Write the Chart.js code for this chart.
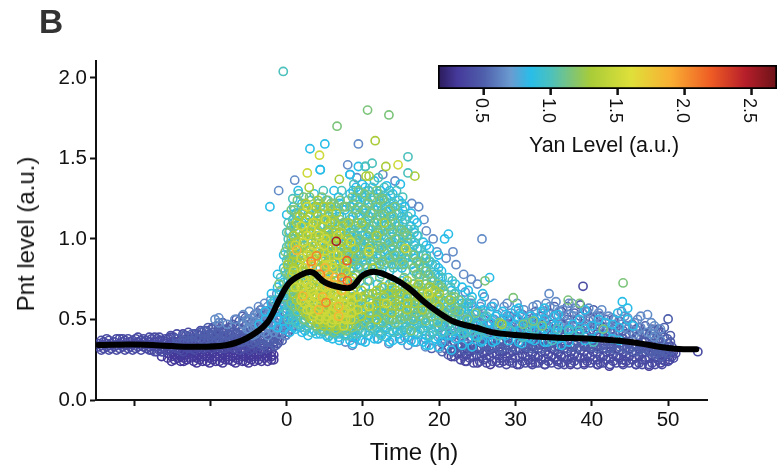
<!DOCTYPE html>
<html lang="en">
<head>
<meta charset="UTF-8">
<title>Pnt level over time</title>
<script src="https://cdn.jsdelivr.net/npm/chart.js"></script>
<style>
    body { margin: 0; background: #fff; font-family: "Liberation Sans", Arial, sans-serif; }
    #wrap { position: relative; width: 778px; height: 467px; overflow: hidden; color: #111; }
    canvas { display: block; }
    #mainBox { position: absolute; left: 0; top: 0; width: 778px; height: 467px; }
    #barBox { position: absolute; left: 428px; top: 55px; width: 350px; height: 110px; }
    .lbl { position: absolute; white-space: nowrap; }
    #panel { left: 39px; top: 3px; font-size: 33.5px; font-weight: bold; color: #333; }
    #timeTitle { left: 414px; top: 452px; font-size: 24px; transform: translate(-50%, -50%); }
    #pntTitle { left: 26px; top: 234px; font-size: 24px; transform: translate(-50%, -50%) rotate(-90deg); }
    #yanTitle { left: 604px; top: 145px; font-size: 21.5px; transform: translate(-50%, -50%); }
</style>
</head>
<body>
<div id="wrap">
    <div id="mainBox"><canvas id="mainChart" width="778" height="467"></canvas></div>
    <div id="barBox"><canvas id="yanBar" width="350" height="110"></canvas></div>
    <div class="lbl" id="panel">B</div>
    <div class="lbl" id="timeTitle">Time (h)</div>
    <div class="lbl" id="pntTitle">Pnt level (a.u.)</div>
    <div class="lbl" id="yanTitle">Yan Level (a.u.)</div>
</div>
<script>
// colour bar
var barLevels = [0.157, 0.3, 0.5, 0.7, 0.85, 1.0, 1.15, 1.3, 1.6, 1.9, 2.2, 2.45, 2.69];
var barColors = ['#2b1a5a', '#45399a', '#4f5fab', '#6a9bd0', '#29bde8', '#4cc1bd', '#7cc47a', '#a9cc38', '#dfe03a', '#f9ae33', '#ee5b24', '#b71f2a', '#6b1218'];
var barTicks = [0.5, 1.0, 1.5, 2.0, 2.5];
var timeTicks = [-20, -10, 0, 10, 20, 30, 40, 50];
var pntTicks = [0, 0.5, 1, 1.5, 2];

// smoothed mean
var meanTime = [-24.7, -20, -15, -12.7, -8, -5.2, -2.6, -0.9, 0.4, 2.5, 3.5, 5, 7, 8.5, 10, 11.7, 14, 16, 18, 20, 22, 25, 27, 30, 35, 40, 45, 50, 52, 53.7];
var meanPnt = [0.342, 0.345, 0.335, 0.33, 0.34, 0.385, 0.478, 0.63, 0.73, 0.79, 0.79, 0.73, 0.70, 0.70, 0.775, 0.795, 0.755, 0.695, 0.61, 0.54, 0.485, 0.447, 0.42, 0.404, 0.388, 0.38, 0.36, 0.323, 0.315, 0.315];

// cells, one list per Yan level. each row is a time followed by the Pnt levels at that time
var yanLevels = [0.3, 0.4, 0.5, 0.65, 0.85, 1.0, 1.15, 1.3, 1.5, 1.85, 2.05, 2.2, 2.5];

var yan030 = [
    [-15.6,.26,.29],[-14.7,.25,.28,.31],[-13.9,.24,.27,.3],[-13.1,.25,.28,.31],[-12.2,.24,.27,.3,.33],[-11.4,.25,.28,.31],
    [-10.5,.24,.27,.3],[-9.7,.25,.29,.32],[-8.8,.24,.27,.3],[-8,.25,.28,.31],[-7.1,.24,.27,.31],[-6.3,.25,.28],[-5.4,.24,.27,.3],
    [-4.6,.25,.28,.31],[-3.7,.25,.28],[-2.9,.26,.29],[-2,.25,.27,.3],[21.6,.27],[23.4,.24],[25,.23],[26.7,.22],[28.4,.24],[30.2,.22],[32,.23],
    [33.8,.22],[35.5,.24],[37.2,.22],[39,.23],[40.8,.22],[42.3,.21],[44,.23],[45.8,.22],[47.5,.21],[49,.23],[50.2,.25],
    [-16.4,.27,.3],[-15.1,.24,.27,.3,.33],[-14.3,.26,.29,.32],[-13.5,.24,.26,.29,.32],[-12.7,.26,.29,.32],[-11.8,.23,.26,.29,.32],[-11,.24,.27,.3,.33],[-10.1,.23,.26,.29,.32],[-9.3,.24,.27,.31],
    [-8.4,.23,.26,.29,.32],[-7.6,.25,.27,.3,.33],[-6.7,.23,.26,.29,.32],[-5.8,.24,.27,.3],[-5,.23,.26,.29,.32],[-4.2,.24,.27,.3],[-3.3,.24,.27,.3],[-2.5,.24,.27,.3],[-1.7,.25,.28]
];
var yan040 = [
    [-24.6,.33,.35],[-24,.32,.36],[-23.3,.31,.34,.37],[-22.6,.33,.36],[-21.9,.32,.35,.38],[-21.2,.31,.34,.37],[-20.5,.33,.36],[-19.8,.32,.35,.38],
    [-19.1,.31,.34,.37],[-18.4,.32,.35,.37],[-17.7,.31,.34,.38],[-17,.3,.33,.36,.38],[-16.3,.3,.33,.37],[-15.5,.31,.34,.38],[-14.8,.33,.36,.39],
    [-14,.31,.34,.37],[-13.2,.33,.36,.4],[-12.5,.32,.35,.38],[-11.7,.33,.37,.41],[-10.9,.32,.35,.39],[-10.1,.34,.37,.41],[-9.3,.33,.36,.4],
    [-8.5,.32,.35,.38,.42],[-7.7,.33,.37,.41],[-6.9,.32,.35,.39],[-6.1,.31,.34,.38],[-5.2,.33,.36,.4],[-4.4,.32,.35],[-3.5,.31,.34,.37],[-2.6,.32,.36],[-1.7,.33,.36],
    [22.4,.29,.33],[23.2,.27,.31],[24,.26,.3],[24.9,.28,.32],[25.8,.25,.29],[26.6,.27,.31],[27.5,.24,.28],[28.3,.26,.3],[29.2,.24,.29],[30,.26,.31],[30.9,.24,.28],
    [31.7,.25,.3],[32.6,.23,.27],[33.4,.25,.3],[34.3,.24,.28],[35.1,.26,.31],[36,.23,.27],[36.8,.25,.3],[37.7,.24,.28],[38.5,.26,.31],[39.4,.24,.28],[40.2,.25,.3],
    [41.1,.23,.27],[41.9,.25,.3],[42.8,.24,.28],[43.6,.26,.31],[44.5,.24,.27],[45.3,.25,.3],[46.2,.23,.27],[47,.25,.3],[47.9,.23,.28],[48.7,.25,.3],[49.6,.24,.28,.33],[50.5,.27,.3,.33],[51,.29],[53.9,.3],[38.85,.706],
    [-24.3,.31,.34,.37],[-23.6,.33,.35,.38],[-23,.32,.35],[-22.3,.31,.34,.38],[-21.5,.33,.36,.38],[-20.8,.32,.34,.38],[-20.2,.31,.35,.37],[-19.5,.33,.36,.39],[-18.8,.33,.36,.38],[-18,.31,.33,.36,.39],[-17.3,.3,.33,.36,.39],[-16.7,.31,.34,.37,.39],
    [-15.9,.31,.35,.38],[-15.2,.33,.36,.39,.4],[-14.4,.32,.35,.38,.41],[-13.6,.3,.34,.37,.41],[-12.9,.32,.35,.39,.42],[-12.1,.31,.34,.38,.41],[-11.3,.33,.36,.4,.43],[-10.5,.33,.36,.39,.43],[-9.7,.32,.35,.38,.42,.45],[-8.9,.33,.36,.4,.44],
    [-8.1,.32,.35,.39,.43],[-7.3,.33,.36,.4,.45],[-6.5,.33,.37,.41],[-5.7,.32,.36,.39,.43],[-4.8,.31,.34,.38,.42],[-4,.33,.36,.4],[-3.1,.32,.35,.39],[-2.2,.33,.37,.41],[-1.2,.35,.38],
    [22,.27,.31],[22.8,.25,.29,.33],[23.6,.24,.28,.32],[24.5,.23,.27,.31,.34],[25.3,.24,.27,.31],[26.2,.23,.26,.3,.33],[27,.24,.29,.32],[27.9,.23,.26,.3,.33],[28.8,.22,.27,.31],[29.6,.23,.26,.3,.33],[30.5,.22,.27,.31],[31.3,.23,.27,.32],
    [32.2,.22,.25,.29,.33],[33,.23,.27,.32],[33.9,.22,.26,.3,.33],[34.7,.23,.27,.32],[35.6,.22,.25,.29,.33],[36.4,.22,.27,.32],[37.3,.23,.26,.3,.33],[38.1,.22,.27,.32],[39,.22,.26,.3,.33],[39.8,.23,.27,.32],[40.7,.22,.25,.29,.33],[41.5,.23,.27,.32],
    [42.4,.22,.26,.3,.33],[43.2,.23,.27,.32],[44.1,.22,.25,.29,.33],[44.9,.23,.27,.32],[45.8,.22,.26,.3,.33],[46.6,.22,.25,.29,.33],[47.5,.22,.26,.3,.33],[48.3,.22,.26,.3,.33],[49.2,.22,.25,.29,.33],[50,.24,.27,.31,.35],[50.7,.26,.3]
];
var yan050 = [
    [-14.4,.35,.38],[-13,.36,.39],[-11.9,.35,.39],[-10.8,.37,.4,.43],[-9.7,.36,.4,.44],[-8.9,.38,.42,.46],[-7.9,.36,.4,.44],[-7.1,.38,.42,.47],
    [-6.2,.36,.4,.44,.49],[-5.4,.38,.42,.46,.51],[-4.6,.35,.39,.43,.48],[-3.8,.37,.41,.45,.5,.54],[-3,.34,.38,.42,.47,.52],[-2.2,.36,.4,.44,.5],[-1.4,.34,.39,.43,.48],[-.6,.37,.41,.46],[.2,.42,.47],
    [19,.32],[20.4,.3,.35],[21.2,.28,.33,.39],[22,.31,.36],[23,.34,.39,.44],[23.8,.33,.37],[24.6,.35,.41],[25.4,.33,.38,.45],[26.2,.34,.39],[27,.33,.38,.44],[27.9,.32,.36,.42],
    [28.7,.34,.39,.47],[29.6,.33,.37,.43],[30.4,.35,.4,.46],[31.3,.33,.38,.43],[32.1,.32,.36,.42,.49],[33,.34,.39,.45],[33.8,.33,.37,.42,.5],[34.7,.35,.41,.47],[35.6,.32,.37,.43],
    [36.4,.34,.39,.46,.52],[37.3,.33,.38,.43],[38.1,.32,.36,.42,.5],[39,.34,.4,.46],[39.8,.33,.37,.43,.51],[40.7,.32,.36,.41,.47],[41.5,.34,.39,.45],[42.4,.32,.36,.42],[43.2,.31,.35,.4,.46],
    [44.1,.33,.38,.43],[44.9,.31,.35,.41],[45.8,.3,.34,.39,.44],[46.6,.32,.36,.42],[47.5,.3,.34,.4],[48.3,.28,.32,.37,.43],[49.1,.27,.31,.36,.42],[49.9,.29,.33,.38],[50,.503],
    [-13.5,.37,.4],[-12.4,.37,.41],[-11.3,.38,.42],[-10.3,.38,.42,.45],[-9.2,.37,.41,.46],[-8.4,.37,.4,.44,.48],[-7.5,.36,.41,.45],[-6.6,.37,.42,.46,.5],[-5.8,.36,.4,.44,.48,.52],[-5,.37,.41,.45,.5],[-4.2,.36,.4,.44,.48,.53],
    [-3.4,.35,.39,.43,.47,.52,.56],[-2.6,.36,.4,.45,.5,.55],[-1.8,.35,.39,.43,.47,.52,.58],[-1,.37,.41,.45,.5,.56],[-.2,.4,.44,.49,.54],[.6,.44,.5],
    [20.8,.32,.37,.41],[21.7,.3,.35,.4],[22.6,.33,.38,.42],[23.4,.31,.36,.41,.46],[24.2,.33,.38,.44],[25,.31,.36,.41,.48],[25.8,.34,.39,.44,.5],[26.6,.32,.37,.42,.47],[27.4,.34,.4,.46],[28.3,.32,.37,.42,.5],[29.2,.34,.4,.45,.52],[30,.32,.37,.43,.5],
    [30.9,.34,.4,.46,.53],[31.7,.33,.38,.44,.5],[32.6,.34,.4,.47,.55],[33.4,.32,.38,.44,.52],[34.3,.34,.4,.46,.54],[35.1,.33,.38,.44,.52,.58],[36,.34,.4,.47,.55],[36.8,.32,.37,.43,.5,.58],[37.7,.34,.4,.46,.54],[38.5,.33,.38,.44,.52,.59],
    [39.4,.34,.4,.47,.55],[40.2,.33,.38,.43,.5,.56],[41.1,.34,.39,.45,.52],[41.9,.32,.37,.43,.5],[42.8,.34,.39,.44,.5],[43.6,.33,.38,.43,.49],[44.5,.32,.36,.41,.46],[45.3,.33,.37,.42,.47],[46.2,.31,.35,.4,.45],[47,.32,.36,.41,.46],[47.9,.3,.35,.39,.44],[48.7,.29,.33,.38,.44],[49.5,.3,.34,.39,.45],[50.3,.31,.36,.4]
];
var yan065 = [
    [-9.4,.5],[-8.9,.48,.51],[-7.8,.47],[-6.8,.5],[-5.7,.53,.47],[-4.9,.55,.49,.44],[-4.1,.53,.47,.41],[-3.3,.56,.5,.44],[-2.5,.58,.52,.46,.4],[-1.7,.6,.53,.47,.42],[-.9,.52,.46,.41,.62],[-.1,.5,.45,.4,.57],[.7,.46],
    [7.7,.36],[8.6,.34,.39],[9.7,.37],[12,.38],[13.4,.35],[14.8,.38],[15.9,.34,.39],[17,.36],[18.2,.33,.38],[19.2,.37,.42],[20,.45,.32],[20.8,.42,.5],[21.6,.46,.36,.57],[22.6,.41,.5,.62],
    [23.4,.45,.55,.67],[24.2,.42,.5,.6],[25,.47,.55,.72],[25.9,.43,.52,.64],[26.8,.48,.58],[27.6,.45,.53],[28.5,.5,.58],[29.4,.46,.54],[30.2,.43,.51,.6],[31.1,.48,.56],[31.9,.45,.53],[32.8,.51,.59],
    [33.6,.46,.54],[34.5,.5,.58],[35.3,.44,.53,.61],[36.2,.48,.56],[37,.46,.53,.6],[37.9,.5,.57],[38.8,.45,.54],[39.6,.49,.57],[40.5,.44,.52],[41.3,.48,.56],[42.2,.45,.52],[43,.42,.5],
    [43.9,.47,.55],[44.7,.44,.51],[45.6,.41,.48],[46.4,.45,.52],[47.3,.42,.53],[48.2,.39,.46],[49,.37,.44],[34.4,.66],[25.6,1],[1.05,1.365],[9.4,1.59],[14.2,1.36],[19.2,1.0],[-1.05,1.3],[8,1.46],
    [-5.2,.5,.44],[-4.5,.51,.45,.4],[-3.7,.58,.52,.46],[-2.9,.6,.54,.48,.42],[-2.1,.62,.56,.5,.44],[-1.3,.66,.58,.5,.44],[-.5,.64,.55,.47],[.3,.6,.52,.44],[1,.48],[1.8,.45],
    [20.4,.38,.46,.54],[22.2,.38,.47,.55],[23.9,.39,.5,.6],[25.4,.4,.48,.58],[27.2,.42,.5,.6],[28.9,.44,.52,.6],[30.6,.46,.54],[32.3,.43,.51,.58],[34,.45,.53,.6],[35.7,.47,.55],[37.4,.44,.52,.6],[39.2,.47,.55],[40.9,.46,.54],[42.6,.43,.51],[44.3,.45,.52],[46,.43,.5],[47.8,.41,.48],
    [9.2,1.38],[12.6,1.4],[16.4,1.22],[17.3,1.2],[18,1.12],[19.7,.92],[20.9,.88],[22.2,.84],[23.2,.78],[24.2,.75],[21.8,.92],[18.3,1.05]
];
var yan085 = [
    [-3.6,.47],[-2.8,.5,.55],[-2,.47,.53,.6,.66],[-1.2,.45,.5,.56,.62,.7,.78],[-.4,.44,.49,.54,.6,.66,.73,.82,.9],[.4,.42,.47,.53,.59,.65,.72,.8,.88,.97,1.05],[1.2,.44,.5,.56,.98,1.08,1.16],
    [2,.42,.48,.54,1.1,1.22],[2.8,.4,.46,.53,1.02,1.15],[3.6,.43,.49,1.2,1.28],[4.4,.41,.47,1.12,1.43],[5.2,.4,.45,.98,1.05,1.24],[6,.38,.44,.88,.96,1.1,1.18],[6.8,.39,.43,.84,.92,1.0,1.08,1.26],
    [7.6,.41,.46,.78,.86,.94,1.02,1.1,1.18],[8.3,.37,.42,.5,.8,.88,.96,1.04,1.12,1.2,1.28,1.4],[9.1,.39,.45,.52,.58,.84,.92,1,1.08,1.16,1.24,1.32],[9.9,.37,.42,.48,.6,.86,.94,1.02,1.1,1.18,1.26,1.34],
    [10.7,.4,.46,.53,.66,.9,.98,1.06,1.14,1.22,1.3],[11.5,.38,.44,.5,.58,.86,.94,1.02,1.1,1.18,1.26,1.36],[12.3,.41,.47,.55,.62,.9,.98,1.06,1.14,1.22,1.3],[13.1,.39,.45,.52,.6,.85,.93,1.01,1.09,1.17,1.25,1.33],
    [13.9,.37,.43,.5,.57,.65,.88,.96,1.04,1.12,1.2,1.28],[14.7,.41,.47,.54,.62,.84,.92,1,1.08,1.16,1.24],[15.5,.39,.45,.52,.6,.68,.88,.96,1.04,1.12,1.2],[16.3,.37,.43,.5,.57,.65,.84,.92,1,1.08,1.16],
    [17.1,.41,.47,.54,.62,.86,.94,1.02,1.1],[17.9,.36,.43,.5,.58,.82,.9,.98],[18.7,.34,.4,.47,.54,.62,.86,.94],[19.5,.38,.45,.52,.6,.78,.84],[20.3,.36,.42,.5,.57,.72,.8],[21.2,.4,.47,.54,.62,.76,1.03],
    [22.1,.38,.44,.52,.58,.66,.72],[22.9,.42,.48,.56,.62],[23.8,.37,.44,.5,.58,.68],[24.6,.4,.47,.53],[25.5,.36,.43,.5,.6],[26.6,.41,.48,.55,.76],[27.4,.37,.44,.52],[28.3,.41,.47,.55],[29.1,.37,.44,.5],[30,.41,.47,.56],
    [30.8,.35,.44,.52],[31.7,.39,.46],[32.5,.37,.43,.5],[33.4,.41,.48,.55],[34.2,.36,.43],[35.1,.39,.46,.52],[36,.34,.42],[37.5,.4,.47],[39.1,.37,.44,.56],[40.9,.4,.5],[42.7,.38,.47],[44,.61],[43.4,.54],[44.7,.5,.57],[45.4,.46],[20.7,1.0],[-2.2,1.2],[3.05,1.56],[5,1.59],[9.4,1.45],[8.3,1.4],[4.4,1.43],
    [.9,.45,.52,.6,.68,.76,.84,.92,1.0,1.1,1.2],[2.4,.43,.49,.56,.66,.76,1.08,1.18],[3.9,.41,.46,.54,.74,.82,1.05,1.16],[5.4,.39,.44,.5,.7,.8,.92,1.02,1.1],[6.9,.37,.41,.47,.72,.8,.88,1.04,1.14,1.22],[8.7,.35,.4,.46,.55,.64,.72,.76,.82,.9,.98,1.06,1.14,1.22,1.3],
    [10.3,.36,.42,.5,.58,.7,.78,.84,.92,1,1.08,1.16,1.24,1.32],[11.9,.38,.45,.53,.61,.72,.8,.88,.96,1.04,1.12,1.2,1.28],[13.5,.36,.42,.49,.56,.64,.72,.8,.9,.98,1.06,1.14,1.22,1.3],[15.1,.37,.43,.5,.58,.66,.74,.82,.9,.98,1.06,1.14,1.22],
    [16.7,.36,.42,.49,.56,.64,.72,.8,.88,.96,1.04,1.12],[18.3,.34,.4,.48,.56,.64,.72,.8,.88,.96],[19.9,.33,.39,.46,.54,.62,.7,.76,.82,.9],[21.6,.31,.4,.5,.6,.68],[23,.34,.44,.53,.6,.7],[24.3,.33,.42,.5,.58,.64],[25.7,.37,.46,.56,.66],
    [27,.36,.44,.5,.58],[28.7,.4,.46,.53],[30.4,.36,.43,.5,.57],[32,.38,.44,.52],[33.8,.36,.44,.5,.57],[35.6,.38,.46,.53],[37,.36,.44],[38.4,.41,.5],[40,.38,.46],[41.8,.4,.48],[43.6,.37,.45],
    [14.9,1.34],[6.2,1.3],[1.5,1.3],[0,1.15]
];
var yan100 = [
    [-1.6,.62],[-.8,.58,.68,.76],[0,.55,.62,.7,.78,.87,.95,1.04],[.8,.5,.56,.63,.7,.78,.85,.94,1.02,1.12,1.25],[1.6,.47,.53,.6,.66,.9,1,1.1,1.28],[2.4,.45,.5,.58,.96,1.06,1.2],[3.2,.42,.48,1.0,1.1,1.24],[4,.44,.52,.9,1.06,1.16],
    [4.8,.42,.48,.86,.94,1.18,1.3],[5.6,.4,.45,.82,.9,1.02,1.14],[6.4,.41,.46,.52,.86,.98,1.06,1.2],[7.2,.43,.48,.82,.9,.98,1.14,1.3],[8,.4,.46,.54,.84,.92,1.0,1.08,1.24],[8.8,.42,.48,.56,.62,.88,.96,1.04,1.22,1.34],[9.5,.44,.5,.58,.83,.91,.99,1.07,1.15,1.29],
    [10.3,.42,.49,.56,.63,.87,.95,1.03,1.11,1.19,1.27,1.45],[11.2,.44,.52,.6,.84,.92,1,1.08,1.16,1.24,1.32,1.47],[12,.42,.48,.56,.64,.88,.96,1.04,1.12,1.2,1.28,1.38],[12.8,.44,.5,.58,.66,.84,.92,1,1.08,1.16,1.24,1.32],[13.6,.46,.54,.62,.68,.87,.95,1.03,1.11,1.19,1.27],
    [14.4,.43,.5,.58,.66,.84,.92,1,1.08,1.16,1.3],[15.2,.47,.54,.62,.7,.86,.94,1.02,1.1,1.18,1.26],[15.9,.44,.5,.58,.66,.9,.98,1.06,1.14,1.41,1.51],[16.7,.46,.52,.6,.68,.82,.9,.98,1.06],[17.5,.44,.5,.57,.64,.78,.86,.94],[18.3,.46,.53,.6,.74,.82,.9],[19.1,.42,.49,.56,.64,.76,.84],
    [19.9,.44,.51,.58,.7,.78],[20.7,.46,.53,.6,.66],[21.5,.43,.5,.57,.7],[22.4,.46,.54,.6],[23.2,.41,.49,.56],[24.1,.44,.52,.62],[25,.39,.47],[26.2,.42,.52],[27.8,.4,.46],[29.4,.43],[30.9,.39],[32.5,.44],[34.8,.37],[37,.43],[40.2,.36],[-.45,2.04],[10.3,1.45],[21.7,.74],
    [.2,.5,.58,.66,.74,.82,.9,1,1.1],[1.2,.48,.54,.62,.7,.78,.86,.95,1.05,1.15],[2.8,.46,.52,.6,.68,.76,.86,.98,1.08],[4.4,.43,.49,.56,.64,.74,.82,.96,1.08,1.2],[6,.42,.47,.52,.6,.7,.78,.86,.94,1.04,1.16],[7.6,.4,.44,.5,.58,.66,.74,.8,.9,1,1.1,1.2],
    [9.1,.41,.47,.54,.62,.7,.78,.86,.94,1.02,1.1,1.18,1.26],[10.8,.43,.5,.58,.66,.74,.8,.9,.98,1.06,1.14,1.22,1.3],[12.4,.4,.46,.54,.62,.7,.78,.86,.94,1.02,1.1,1.18,1.26],[14,.42,.5,.58,.66,.74,.82,.9,.98,1.06,1.14,1.22],[15.6,.42,.48,.56,.64,.72,.8,.88,.96,1.04,1.12],
    [17.2,.42,.48,.56,.62,.7,.78,.86,.94,1.02],[18.8,.4,.47,.54,.62,.7,.78,.86],[20.4,.42,.48,.55,.62,.7,.76],[22,.44,.52,.58,.66],[23.6,.42,.5,.6],[25.6,.44,.54],[28.6,.42],[31.6,.41,.48],[35.5,.44],[38.4,.43]
];
var yan115 = [
    [-1,.72],[-.2,.64,.8,.92],[.6,.6,.68,.76,.84,.92,1,1.08,1.18],[1.4,.55,.63,.72,.8,.88,.96,1.06,1.14,1.24],[2.2,.5,.58,.66,.9,1,1.08,1.18,1.26],[3,.48,.55,.62,.95,1.04,1.14,1.26],[3.8,.46,.53,.6,.92,1.02,1.1,1.2],[4.6,.44,.5,.58,.88,.98,1.08,1.16,1.26],
    [5.4,.43,.49,.56,.86,.96,1.06,1.14,1.24],[6.2,.42,.48,.54,.82,.92,1.02,1.12,1.22],[7,.45,.5,.56,.86,.96,1.04,1.12,1.24],[7.8,.43,.48,.55,.82,.92,1.02,1.1,1.2],[8.6,.45,.52,.6,.86,.94,1.02,1.14,1.26],[9.4,.46,.54,.62,.82,.9,1.0,1.1,1.2,1.3],
    [10.2,.48,.56,.65,.9,.98,1.08,1.18,1.28],[11,.46,.54,.62,.86,.96,1.06,1.16,1.26],[11.8,.5,.58,.66,.9,1,1.1,1.2,1.3],[12.6,.48,.55,.63,.86,.95,1.05,1.15,1.25],[13.4,.5,.58,.66,.88,.98,1.08,1.18,1.77],[14.2,.48,.56,.64,.9,1,1.1,1.2],[15,.5,.58,.66,.86,.96,1.06],
    [15.8,.52,.6,.68,.92,1.02],[16.6,.5,.57,.64,.72,.82,.9],[17.4,.52,.6,.68,.76,.84],[18.2,.49,.56,.64,.72,.8,.88],[19,.52,.6,.68,.74],[19.8,.48,.56,.64,.72],[20.6,.52,.6,.68],[21.6,.5,.58,.64],[22.6,.55,.62],[23.7,.5],[24.8,.54],[26,.74],[27.9,.48],[29.7,.635],[31,.47],[32.3,.49],[33.5,.46],
    [36.9,.62],[38.4,.6],[41.5,.44],[44.1,.727],[10.6,1.8],[6.6,1.7],[16.3,.43],
    [.3,.7,.78,.86,.96,1.04],[1,.58,.64,.74,.82,.9,.98,1.08,1.18],[2.6,.52,.58,.66,.74,.8,.92,1.02,1.12,1.2],[4.2,.48,.54,.62,.7,.82,.92,1.02,1.12,1.22],[5.8,.45,.5,.58,.66,.74,.82,.92,1.02,1.12,1.22],[7.4,.44,.5,.58,.66,.74,.8,.9,1,1.1,1.2],
    [9,.47,.55,.63,.72,.78,.88,.98,1.08,1.18],[10.6,.5,.58,.66,.74,.82,.92,1.02,1.12,1.22],[12.2,.52,.6,.68,.76,.84,.94,1.04,1.14,1.24],[13.8,.5,.58,.66,.74,.84,.94,1.04,1.14],[15.4,.52,.6,.68,.76,.84,.94,1.04],[17,.54,.62,.7,.78,.86],[18.6,.54,.62,.7,.78],[20.2,.54,.62,.7],[22,.56,.64]
];
var yan130 = [
    [.1,.84],[.9,.66,.74,.82,.9,1.02],[1.7,.58,.64,.72,.84,.94,1.04,1.14],[2.5,.54,.6,.68,.84,.94,1.04,1.12,1.22],[3.3,.5,.56,.64,.72,.88,.98,1.08,1.18],[4.1,.47,.54,.6,.68,.86,.94,1.04,1.14,1.24],[4.9,.46,.52,.6,.66,.84,.92,1.02,1.12,1.2],
    [5.7,.46,.52,.58,.66,.9,1,1.1,1.2],[6.5,.44,.5,.56,.64,.86,.96,1.04,1.16],[7.3,.48,.54,.6,.66,.88,.98,1.08],[8.1,.46,.52,.58,.64,.9,1,1.1],[8.9,.5,.56,.64,.94],[9.8,.52,.6,.68,1.1],[10.8,.54,.62,.94,1.39],[11.8,.5,.6,.68,1.02],
    [12.8,.56,.64,1.1],[13.8,.54,.62,.7],[14.8,.58,.66],[15.8,.56,.64,.74],[16.8,.6,.68,1.39],[17.8,.56,.66],[18.8,.62,.7],[20,.58,.66],[21.4,.62],[28.2,.47],[2.95,1.32],[6.9,1.37],[10.4,1.39],[11.6,1.61],[13,1.45],
    [.7,.7,.78,.86,.96],[1.3,.62,.7,.78,.86,.98,1.1],[2.1,.56,.62,.68,.76,.8,.9,1.02,1.16],[3,.52,.58,.66,.74,.82,.94,1.04,1.14],[3.9,.5,.56,.64,.7,.78,.9,1,1.1,1.2],[4.7,.48,.54,.62,.7,.76,.88,.98,1.08],[5.5,.48,.54,.6,.68,.76,.82,.94,1.04,1.16],
    [6.3,.46,.52,.6,.66,.74,.9,1,1.1],[7.1,.46,.52,.58,.64,.8,.94,1.04],[7.9,.5,.56,.62,.78,.84,.96],[8.7,.54,.6,.68,.76],[9.9,.56,.64],[11.3,.58,.66,.82],[12.7,.6,.7],[14.3,.6,.68],[15.9,.6,.7],[17.3,.64,.72],[19.4,.62,.68]
];
var yan150 = [
    [1.1,.7,.96],[1.9,.62,.7,.88,1.08],[2.7,.56,.64,.72,.9,1.02,1.2,1.41],[3.5,.52,.6,.66,.86,.96,1.1],[4.3,.5,.58,.66,.92,1.02,1.52],[5.1,.5,.56,.62,.7,.88,1.0,1.12],[5.9,.48,.54,.62,.84,.94],[6.7,.5,.56,.64,.9,1.02],[7.5,.46,.54,.6,.68,.86],[8.4,.5,.58,.66,.98],[9.3,.56,.64],[10.8,.58,.92],[13.1,.6],[14.6,1.46],[15.6,.94],[18.6,.66],
    [2.3,.6,.66,.74,.82],[3.1,.56,.62,.7,.78,.92],[3.7,.54,.64,.76],[4.5,.52,.6,.68,.74],[5.3,.52,.58,.66,.74,.84],[6.1,.5,.58,.66,.72,.82],[6.9,.52,.6,.7],[7.7,.5,.56,.64,.8],[8.5,.54,.62,.74],[.9,.8],[4.9,.96],[3.2,1.06],[2.2,.98]
];
var yan185 = [[1.3,.93],[2.1,.645],[3.3,.84],[4.2,.78,.56],[5,.82],[5.5,.72,.78],[6.3,.76],[6.8,.52,.58],[7.2,.68,.74],[4.7,.64]];
var yan205 = [[3.9,.895],[5.15,.605],[4.4,.78],[7.2,.76],[3.2,.86]];
var yan220 = [[7.95,.74],[7.9,.865]];
var yan250 = [[6.5,.985]];

var yanBands = [yan030, yan040, yan050, yan065, yan085, yan100, yan115, yan130, yan150, yan185, yan205, yan220, yan250];

function hexToRgb(hex) {
    return [1, 3, 5].map(i => parseInt(hex.substr(i, 2), 16));
}

function yanColor(level) {
    for (var i = 1; i < barLevels.length; i++) {
        if (level <= barLevels[i]) {
            var f = (level - barLevels[i - 1]) / (barLevels[i] - barLevels[i - 1]);
            var a = hexToRgb(barColors[i - 1]);
            var b = hexToRgb(barColors[i]);
            return 'rgb(' + a.map((v, k) => Math.round(v + (b[k] - v) * f)).join(',') + ')';
        }
    }
    return barColors[barColors.length - 1];
}

function rowsToPoints(rows) {
    return rows.flatMap(r => r.slice(1).map(p => ({ x: r[0], y: p })));
}

var datasets = [{
    type: 'line',
    data: meanTime.map((t, i) => ({ x: t, y: meanPnt[i] })),
    borderColor: '#000',
    borderWidth: 6,
    pointRadius: 0,
    tension: 0.35,
    borderCapStyle: 'round',
    order: 0
}];

yanBands.forEach(function (rows, i) {
    datasets.push({
        type: 'scatter',
        data: rowsToPoints(rows),
        pointRadius: 4.1,
        pointBorderWidth: 1.6,
        pointBackgroundColor: 'rgba(0,0,0,0)',
        pointBorderColor: yanColor(yanLevels[i]),
        order: yanBands.length - i
    });
});

var fontFamily = '"Liberation Sans", Arial, sans-serif';

new Chart(document.getElementById('mainChart'), {
    data: { datasets: datasets },
    options: {
        responsive: false,
        animation: false,
        layout: { padding: { top: 61, right: 71 } },
        plugins: { legend: { display: false }, tooltip: { enabled: false } },
        scales: {
            x: {
                type: 'linear',
                min: -25,
                max: 55.1,
                border: { color: '#111', width: 2 },
                grid: { drawOnChartArea: false, tickLength: 6, tickWidth: 2, tickColor: '#111' },
                afterBuildTicks: s => { s.ticks = timeTicks.map(v => ({ value: v })); },
                ticks: {
                    color: '#111',
                    padding: 2,
                    maxRotation: 0,
                    autoSkip: false,
                    font: { family: fontFamily, size: 20.5 },
                    callback: v => (v >= 0 ? v : '')
                },
                afterFit: s => { s.height = 67; }
            },
            y: {
                min: 0,
                max: 2.105,
                border: { color: '#111', width: 2 },
                grid: { drawOnChartArea: false, tickLength: 6, tickWidth: 2, tickColor: '#111' },
                afterBuildTicks: s => { s.ticks = pntTicks.map(v => ({ value: v })); },
                ticks: {
                    color: '#111',
                    padding: 3,
                    font: { family: fontFamily, size: 20.5 },
                    callback: v => v.toFixed(1)
                },
                afterFit: s => { s.width = 96; }
            }
        }
    }
});

// the bar's tick labels read top to bottom, chart.js only anchors them right for positive angles
var rotatedTicks = {
    id: 'rotatedTicks',
    afterDraw: function (chart) {
        var s = chart.scales.x;
        var c = chart.ctx;
        c.save();
        c.fillStyle = '#111';
        c.font = '18px ' + fontFamily;
        c.textAlign = 'left';
        c.textBaseline = 'middle';
        barTicks.forEach(function (v) {
            var px = s.getPixelForValue(v);
            c.fillRect(px - 1, s.top, 2, 6);
            c.save();
            c.translate(px - 3, s.top + 9);
            c.rotate(Math.PI / 2);
            c.fillText(v.toFixed(1), 0, 0);
            c.restore();
        });
        c.restore();
    }
};

// horizontal colour bar on its own Yan scale
new Chart(document.getElementById('yanBar'), {
    type: 'bar',
    plugins: [rotatedTicks],
    data: {
        labels: ['Yan'],
        datasets: [{
            data: [[barLevels[0], barLevels[barLevels.length - 1]]],
            barPercentage: 1,
            categoryPercentage: 1,
            borderColor: '#000',
            borderWidth: 2,
            borderSkipped: false,
            backgroundColor: function (ctx) {
                var s = ctx.chart.scales.x;
                if (!s || !isFinite(s.left) || !isFinite(s.right) || s.right <= s.left) return '#4cc1bd';
                var g = ctx.chart.ctx.createLinearGradient(s.left, 0, s.right, 0);
                barLevels.forEach((l, i) => g.addColorStop((l - barLevels[0]) / (barLevels[barLevels.length - 1] - barLevels[0]), barColors[i]));
                return g;
            }
        }]
    },
    options: {
        indexAxis: 'y',
        responsive: false,
        animation: false,
        layout: { padding: { top: 10, left: 10, right: 1 } },
        plugins: { legend: { display: false }, tooltip: { enabled: false } },
        scales: {
            y: { display: false },
            x: {
                type: 'linear',
                min: barLevels[0],
                max: barLevels[barLevels.length - 1],
                border: { display: false },
                afterBuildTicks: s => { s.ticks = barTicks.map(v => ({ value: v })); },
                grid: { drawOnChartArea: false, tickLength: 6, tickWidth: 2, tickColor: '#111' },
                ticks: { display: false },
                afterFit: s => { s.height = 76; }
            }
        }
    }
});
</script>
</body>
</html>
